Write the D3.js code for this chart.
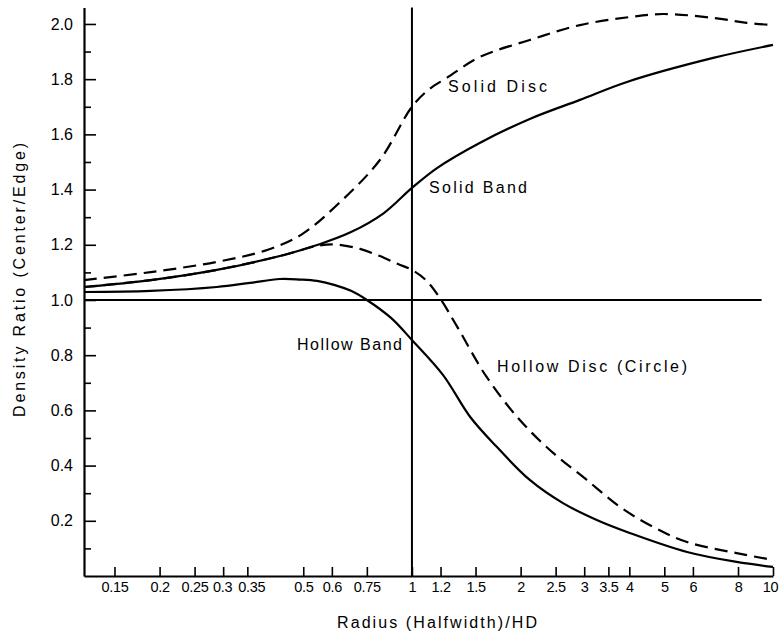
<!DOCTYPE html>
<html>
<head>
<meta charset="utf-8">
<script src="https://cdn.jsdelivr.net/npm/d3@7"></script>
<style>
  html, body { margin: 0; padding: 0; background: #fff; }
  svg { display: block; }
  text { font-family: "Liberation Sans", Arial, sans-serif; fill: #000; }
</style>
</head>
<body>
<svg id="chart" width="779" height="634"></svg>
<script>
// ---- Data ----
const xTickValues = [0.15, 0.2, 0.25, 0.3, 0.35, 0.5, 0.6, 0.75, 1, 1.2, 1.5, 2, 2.5, 3, 3.5, 4, 5, 6, 8, 10];
const xTickLabels = ["0.15", "0.2", "0.25", "0.3", "0.35", "0.5", "0.6", "0.75", "1", "1.2", "1.5", "2", "2.5", "3", "3.5", "4", "5", "6", "8", "10"];
const yTickValues = [0.2, 0.4, 0.6, 0.8, 1.0, 1.2, 1.4, 1.6, 1.8, 2.0];
const yMinorTickValues = [0.1, 0.3, 0.5, 0.7, 0.9, 1.1, 1.3, 1.5, 1.7, 1.9];

const solidDiscX = [0.1235, 0.189, 0.288, 0.397, 0.493, 0.62, 0.815, 1.0, 1.12, 1.25, 1.54, 2.12, 2.92, 4.01, 4.96, 6.83, 8.46, 10];
const solidDiscY = [1.072, 1.101, 1.138, 1.181, 1.236, 1.344, 1.507, 1.70, 1.765, 1.805, 1.88, 1.942, 1.996, 2.025, 2.036, 2.022, 2.004, 1.996];

const solidBandX = [0.1235, 0.189, 0.288, 0.442, 0.546, 0.678, 0.836, 1.0, 1.173, 1.54, 2.12, 2.92, 3.94, 6.83, 10];
const solidBandY = [1.047, 1.072, 1.109, 1.163, 1.199, 1.246, 1.315, 1.406, 1.478, 1.569, 1.656, 1.725, 1.79, 1.877, 1.924];

const hollowDiscX = [0.1235, 0.189, 0.288, 0.442, 0.546, 0.616, 0.718, 0.815, 0.915, 1.0, 1.093, 1.195, 1.34, 1.61, 1.99, 2.46, 3.05, 3.77, 4.65, 5.78, 7.93, 10];
const hollowDiscY = [1.047, 1.072, 1.109, 1.163, 1.196, 1.201, 1.185, 1.159, 1.130, 1.109, 1.072, 1.007, 0.899, 0.721, 0.565, 0.446, 0.348, 0.25, 0.178, 0.123, 0.083, 0.058];

const hollowBandX = [0.1235, 0.189, 0.288, 0.356, 0.431, 0.490, 0.546, 0.612, 0.678, 0.75, 0.875, 1.0, 1.22, 1.45, 1.72, 2.12, 2.62, 3.25, 4.01, 5.78, 7.93, 10];
const hollowBandY = [1.029, 1.033, 1.047, 1.062, 1.076, 1.074, 1.069, 1.054, 1.033, 1.0, 0.935, 0.855, 0.728, 0.576, 0.467, 0.348, 0.264, 0.203, 0.156, 0.087, 0.051, 0.033];

const refLineX = 1;          // vertical reference line at Radius = 1
const refLineY = 1.0;        // horizontal reference line at ratio = 1
const refLineYEnd = 9.3;     // where the horizontal line stops

// ---- Scales ----
const svg = d3.select("#chart");
const x = d3.scaleLog().domain([0.1235, 10]).range([84, 773]);
const y = d3.scaleLinear().domain([0, 2.06]).range([576, 7.4]);

// ---- Axes ----
const xAxis = d3.axisBottom(x)
  .tickValues(xTickValues)
  .tickFormat((d, i) => xTickLabels[i])
  .tickSize(-9)
  .tickSizeOuter(0)
  .tickPadding(8);
const gx = svg.append("g").attr("transform", "translate(0,576)").call(xAxis);
gx.select(".domain").attr("stroke", "#000").attr("stroke-width", 2.2);
gx.selectAll(".tick line").attr("stroke", "#000").attr("stroke-width", 1.6);
gx.selectAll(".tick text")
  .attr("font-size", 14.5)
  .attr("letter-spacing", "-0.3px")
  .attr("dy", "0.72em").attr("y", 6)
  .attr("x", d => d === 10 ? -3 : d === 0.35 ? 4 : d === 0.3 ? -1 : 0);

const yAxis = d3.axisLeft(y)
  .tickValues(yTickValues)
  .tickFormat(d3.format(".1f"))
  .tickSize(-12)
  .tickSizeOuter(0)
  .tickPadding(11);
const gy = svg.append("g").attr("transform", "translate(84,0)").call(yAxis);
gy.select(".domain").attr("stroke", "#000").attr("stroke-width", 2.2);
gy.selectAll(".tick line").attr("stroke", "#000").attr("stroke-width", 1.6);
gy.selectAll(".tick text").attr("font-size", 16);

const yMinor = d3.axisLeft(y).tickValues(yMinorTickValues).tickSize(-7).tickFormat("");
const gym = svg.append("g").attr("transform", "translate(84,0)").call(yMinor);
gym.select(".domain").remove();
gym.selectAll(".tick line").attr("stroke", "#000").attr("stroke-width", 1.6);

// ---- Reference lines ----
svg.append("line")
  .attr("x1", x(refLineX)).attr("x2", x(refLineX))
  .attr("y1", y(0)).attr("y2", y(2.06))
  .attr("stroke", "#000").attr("stroke-width", 2);
svg.append("line")
  .attr("x1", x(0.1235)).attr("x2", x(refLineYEnd))
  .attr("y1", y(refLineY)).attr("y2", y(refLineY))
  .attr("stroke", "#000").attr("stroke-width", 2);

// ---- Curves ----
const line = d3.line().x(d => x(d[0])).y(d => y(d[1])).curve(d3.curveCatmullRom.alpha(0.5));
function drawSeries(xs, ys, dashed) {
  svg.append("path")
    .datum(xs.map((v, i) => [v, ys[i]]))
    .attr("d", line)
    .attr("fill", "none")
    .attr("stroke", "#000")
    .attr("stroke-width", 2.2)
    .attr("stroke-dasharray", dashed ? "13,7" : null);
}
drawSeries(solidBandX, solidBandY, false);
drawSeries(hollowBandX, hollowBandY, false);
drawSeries(solidDiscX, solidDiscY, true);
drawSeries(hollowDiscX, hollowDiscY, true);

// ---- Annotations ----
function label(txt, xx, yy, w, size) {
  svg.append("text")
    .attr("x", xx).attr("y", yy)
    .attr("font-size", size)
    .attr("textLength", w)
    .attr("lengthAdjust", "spacing")
    .text(txt);
}
label("Solid Disc", 448, 92, 99, 16);
label("Solid Band", 429, 193, 98, 16);
label("Hollow Band", 297, 350, 105, 16);
label("Hollow Disc (Circle)", 497, 372, 190, 16);
label("Radius (Halfwidth)/HD", 337, 628, 200, 16);

svg.append("text")
  .attr("transform", "translate(25,417) rotate(-90)")
  .attr("font-size", 16)
  .attr("textLength", 274)
  .attr("lengthAdjust", "spacing")
  .text("Density Ratio (Center/Edge)");
</script>
</body>
</html>
